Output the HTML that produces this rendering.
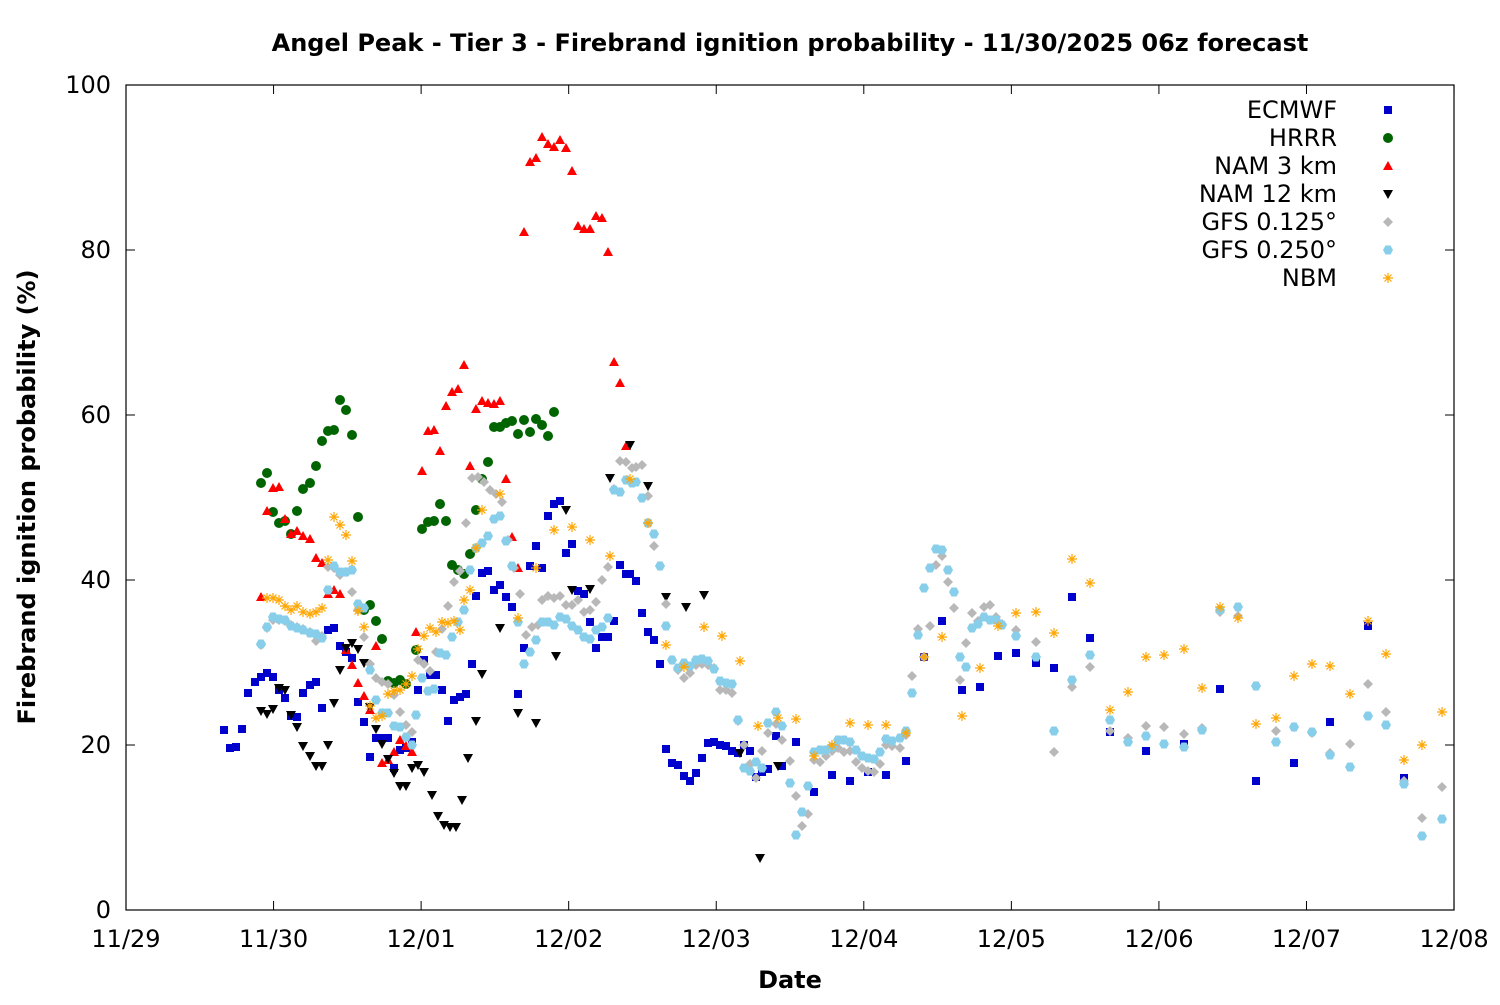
<!DOCTYPE html>
<html><head><meta charset="utf-8"><style>
html,body{margin:0;padding:0;background:#fff}
svg text{font-family:"DejaVu Sans","Liberation Sans",sans-serif}
</style></head><body>
<svg id="s" width="1500" height="1000" xmlns="http://www.w3.org/2000/svg">
<rect width="1500" height="1000" fill="#fff"/>
<text x="790" y="51" text-anchor="middle" font-size="24" font-weight="bold">Angel Peak - Tier 3 - Firebrand ignition probability - 11/30/2025 06z forecast</text>
<text x="790" y="988" text-anchor="middle" font-size="24" font-weight="bold">Date</text>
<text transform="translate(35,497) rotate(-90)" text-anchor="middle" font-size="24" font-weight="bold">Firebrand ignition probability (%)</text>
<g id="ax"></g>
<g id="pts"></g>
<rect x="126" y="85" width="1328" height="825" fill="none" stroke="#000" stroke-width="1.2"/>
</svg>
<script>
var NS="http://www.w3.org/2000/svg",ax=document.getElementById('ax'),P=document.getElementById('pts');
function el(t,a,p){var e=document.createElementNS(NS,t);for(var k in a)e.setAttribute(k,a[k]);(p||P).appendChild(e);return e;}
for(var i=0;i<=5;i++){var y=910-i*165;el('line',{x1:126,x2:135,y1:y,y2:y,stroke:'#000'},ax);el('line',{x1:1445,x2:1454,y1:y,y2:y,stroke:'#000'},ax);
var t=el('text',{x:111,y:y+8,'text-anchor':'end','font-size':24},ax);t.textContent=i*20;}
var xl=['11/29','11/30','12/01','12/02','12/03','12/04','12/05','12/06','12/07','12/08'];
for(var i=0;i<=9;i++){var x=126+i*147.56;el('line',{x1:x,x2:x,y1:910,y2:901,stroke:'#000'},ax);el('line',{x1:x,x2:x,y1:85,y2:94,stroke:'#000'},ax);
var t=el('text',{x:x,y:947,'text-anchor':'middle','font-size':24},ax);t.textContent=xl[i];}
function sq(x,y,c){el('rect',{x:x-4,y:y-4,width:8,height:8,fill:c});}
function ci(x,y,c){el('circle',{cx:x,cy:y,r:5,fill:c});}
function tu(x,y,c){el('polygon',{points:(x-5)+','+(y+4)+' '+(x+5)+','+(y+4)+' '+x+','+(y-5),fill:c});}
function td(x,y,c){el('polygon',{points:(x-5)+','+(y-4)+' '+(x+5)+','+(y-4)+' '+x+','+(y+5),fill:c});}
function di(x,y,c){el('polygon',{points:x+','+(y-5)+' '+(x+5)+','+y+' '+x+','+(y+5)+' '+(x-5)+','+y,fill:c});}
function hx(x,y,c){el('polygon',{points:(x-5)+','+y+' '+(x-2.5)+','+(y-4.5)+' '+(x+2.5)+','+(y-4.5)+' '+(x+5)+','+y+' '+(x+2.5)+','+(y+4.5)+' '+(x-2.5)+','+(y+4.5),fill:c});}
function as(x,y,c){var d='M'+(x-5)+' '+y+'h10M'+x+' '+(y-5)+'v10M'+(x-3.5)+' '+(y-3.5)+'l7 7M'+(x-3.5)+' '+(y+3.5)+'l7 -7';el('path',{d:d,stroke:c,'stroke-width':1.2,fill:'none'});}
function run(f,c,s){var a=s.split(' ');for(var i=0;i<a.length;i++){var p=a[i].split(',');f(+p[0],+p[1],c);}}
var GF="261,645 267,628 273,620 279,620 285,621 291,625 297,627 303,629 310,632 316,641 322,636 328,567 334,568 340,575 346,572 352,592 358,610 364,637 370,664 376,678 382,682 388,684 394,695 400,712 406,725 412,732 418,660 424,664 430,671 436,652 442,629 448,606 454,582 460,571 466,523 472,478 478,477 484,482 490,490 496,494 502,502 508,540 514,568 520,594 526,635 532,627 538,625 542,600 548,596 554,598 560,596 566,605 572,605 578,600 584,612 590,610 596,602 602,580 608,567 614,489 620,461 626,462 632,468 636,467 642,465 648,496 654,546 660,566 666,604 672,660 678,670 684,678 690,673 696,665 702,664 708,665 714,668 720,690 726,690 732,693 738,721 744,745 750,764 756,778 762,751 768,733 776,724 782,740 790,761 796,796 802,826 808,814 814,760 820,762 826,756 832,751 838,748 844,752 850,751 856,762 862,768 868,771 874,772 880,764 886,745 892,746 900,748 906,735 912,676 918,629 924,657 930,626 936,565 942,556 948,582 954,608 960,680 966,643 972,613 978,621 984,607 990,605 996,617 1002,624 1016,630 1036,642 1054,752 1072,687 1090,667 1110,731 1128,738 1146,726 1164,727 1184,734 1202,728 1220,612 1238,616 1256,686 1276,731 1294,727 1312,733 1330,753 1350,744 1368,684 1386,712 1404,781 1422,818 1442,787";
var GQ="261,644 267,627 273,617 279,619 285,620 291,626 297,628 303,630 310,633 316,634 322,638 328,590 334,566 340,572 346,572 352,570 358,604 364,608 370,670 376,700 382,713 388,713 394,726 400,727 406,737 412,745 416,715 422,678 428,691 434,689 440,653 446,655 452,637 458,622 464,610 470,570 476,548 482,543 488,536 494,519 500,516 506,541 512,566 518,622 524,664 530,652 536,640 542,622 548,622 554,625 560,617 566,619 572,626 578,630 584,637 590,639 596,630 602,627 608,618 614,490 620,492 626,480 632,483 636,482 642,498 648,523 654,534 660,566 666,626 672,660 678,668 684,663 690,666 696,660 702,659 708,661 714,669 720,681 726,683 732,684 738,720 744,768 750,771 756,762 762,768 768,723 776,712 782,726 790,783 796,835 802,812 808,786 814,752 820,750 826,750 832,747 838,740 844,740 850,742 856,750 862,756 868,758 874,759 880,752 886,739 892,741 900,738 906,731 912,693 918,635 924,588 930,568 936,549 942,550 948,570 954,592 960,657 966,667 972,628 978,624 984,617 990,620 996,620 1002,625 1016,636 1036,657 1054,731 1072,680 1090,655 1110,720 1128,742 1146,736 1164,744 1184,747 1202,730 1220,610 1238,607 1256,686 1276,742 1294,727 1312,732 1330,755 1350,767 1368,716 1386,725 1404,784 1422,836 1442,819";
var EC="224,730 230,748 236,747 242,729 248,693 255,682 261,677 267,673 273,677 279,690 285,698 291,716 297,717 303,693 310,685 316,682 322,708 328,630 334,628 340,646 346,652 352,658 358,702 364,722 370,757 376,738 382,738 388,738 394,768 400,750 406,748 412,742 418,690 424,660 430,675 436,675 442,690 448,721 454,700 460,697 466,694 472,664 476,596 482,573 488,571 494,590 500,585 506,597 512,607 518,694 524,648 530,566 536,546 542,568 548,516 554,504 560,501 566,553 572,544 578,591 584,594 590,622 596,648 602,637 608,637 614,621 620,565 626,574 630,574 636,581 642,613 648,632 654,640 660,664 666,749 672,763 678,765 684,776 690,781 696,773 702,758 708,743 714,742 720,745 726,746 732,751 738,753 744,745 750,751 756,777 762,772 768,769 776,736 782,766 796,742 814,792 832,775 850,781 868,772 886,775 906,761 924,657 942,621 962,690 980,687 998,656 1016,653 1036,663 1054,668 1072,597 1090,638 1110,732 1146,751 1184,744 1220,689 1256,781 1294,763 1330,722 1368,626 1404,778";
var HR="261,483 267,473 273,512 279,523 285,521 291,534 297,511 303,489 310,483 316,466 322,441 328,431 334,430 340,400 346,410 352,435 358,517 364,610 370,605 376,621 382,639 388,681 394,683 400,680 406,684 416,650 422,529 428,522 434,521 440,504 446,521 452,565 458,570 464,574 470,554 476,510 482,479 488,462 494,427 500,427 506,423 512,421 518,434 524,420 530,432 536,419 542,425 548,436 554,412";
var N3="261,597 267,511 273,488 279,487 285,519 291,534 297,531 303,536 310,539 316,558 322,563 328,594 334,590 340,594 346,650 352,665 358,683 364,696 370,710 376,646 382,763 388,760 394,752 400,740 406,746 412,752 416,632 422,471 428,431 434,430 440,451 446,406 452,392 458,389 464,365 470,466 476,409 482,401 488,403 494,404 500,401 506,479 512,537 518,568 524,232 530,162 536,158 542,137 548,144 554,147 560,140 566,148 572,171 578,226 584,229 590,229 596,216 602,218 608,252 614,362 620,383 626,446";
var N12="261,711 267,714 273,709 279,688 285,690 291,715 297,727 303,746 310,756 316,766 322,766 328,745 334,703 340,670 346,648 352,643 358,649 364,663 370,707 376,729 382,744 388,759 394,773 400,786 406,786 412,768 418,765 424,772 432,795 438,816 444,825 450,827 456,827 462,800 468,758 476,721 482,674 500,628 518,713 536,723 556,656 566,510 572,590 590,589 610,478 630,445 648,486 666,597 686,607 704,595 740,753 760,858 778,766";
var NB="267,598 273,598 279,600 285,606 291,610 297,606 303,612 310,614 316,612 322,608 328,560 334,517 340,525 346,535 352,561 358,611 364,627 370,706 376,718 382,716 388,694 394,691 400,690 406,684 412,676 418,649 424,636 430,628 436,632 442,622 448,623 454,621 460,630 464,600 470,590 476,548 482,510 500,494 518,618 536,568 554,530 572,527 590,540 610,556 630,479 648,523 666,645 684,667 704,627 722,636 740,661 758,726 778,718 796,719 814,756 832,745 850,723 868,725 886,725 906,733 924,657 942,637 962,716 980,668 998,626 1016,613 1036,612 1054,633 1072,559 1090,583 1110,710 1128,692 1146,657 1164,655 1184,649 1202,688 1220,607 1238,618 1256,724 1276,718 1294,676 1312,664 1330,666 1350,694 1368,621 1386,654 1404,760 1422,745 1442,712";
run(sq,'#0000cc',EC);run(ci,'#006400',HR);run(tu,'#ff0000',N3);run(td,'#000000',N12);
run(di,'#b8b8b8',GF);run(hx,'#87ceeb',GQ);run(as,'#ffa500',NB);
var L=[['ECMWF',sq,'#0000cc'],['HRRR',ci,'#006400'],['NAM 3 km',tu,'#ff0000'],['NAM 12 km',td,'#000000'],['GFS 0.125°',di,'#b8b8b8'],['GFS 0.250°',hx,'#87ceeb'],['NBM',as,'#ffa500']];
for(var i=0;i<L.length;i++){var y=110+i*28;var t=el('text',{x:1337,y:y+8,'text-anchor':'end','font-size':24});t.textContent=L[i][0];L[i][1](1388,y,L[i][2]);}
</script>
</body></html>
